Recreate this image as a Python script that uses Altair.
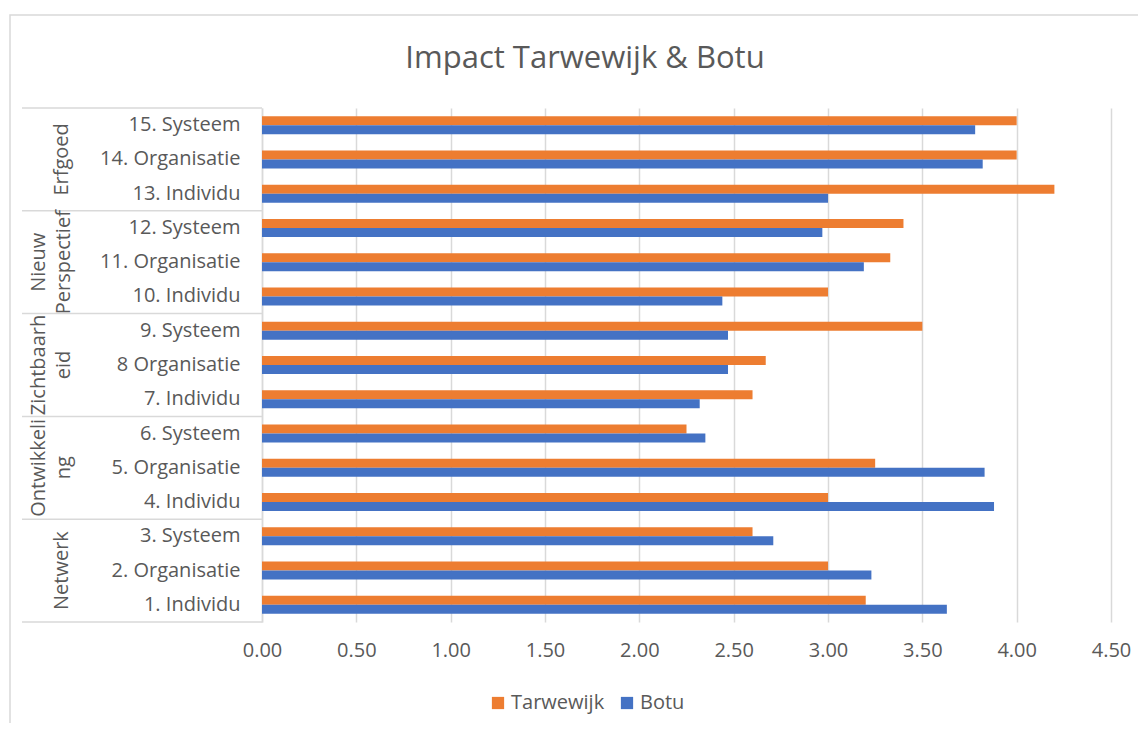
import altair as alt
import pandas as pd

categories = ["1. Individu", "2. Organisatie", "3. Systeem",
              "4. Individu", "5. Organisatie", "6. Systeem",
              "7. Individu", "8 Organisatie", "9. Systeem",
              "10. Individu", "11. Organisatie", "12. Systeem",
              "13. Individu", "14. Organisatie", "15. Systeem"]
tarwewijk = [3.20, 3.00, 2.60, 3.00, 3.25, 2.25, 2.60, 2.67, 3.50, 3.00, 3.33, 3.40, 4.20, 4.00, 4.00]
botu = [3.63, 3.23, 2.71, 3.88, 3.83, 2.35, 2.32, 2.47, 2.47, 2.44, 3.19, 2.97, 3.00, 3.82, 3.78]
groups = ["Netwerk", "Ontwikkeli\nng", "Zichtbaarh\neid", "Nieuw\nPerspectief", "Erfgoed"]
series = ["Tarwewijk", "Botu"]
colors = ["#ED7D31", "#4472C4"]
title_text = "Impact Tarwewijk & Botu"
x_ticks = [0, 0.5, 1.0, 1.5, 2.0, 2.5, 3.0, 3.5, 4.0, 4.5]

FONT = "Open Sans"
GREY = "#595959"
LINE = "#d9d9d9"

rows = []
for c, t, b in zip(categories, tarwewijk, botu):
    rows.append({"cat": c, "series": "Tarwewijk", "value": t})
    rows.append({"cat": c, "series": "Botu", "value": b})
df = pd.DataFrame(rows)

W, H = 849, 514
NOVIEW = alt.ViewBackground(stroke="transparent", strokeWidth=0)

bars = alt.Chart(df).mark_bar().encode(
    x=alt.X("value:Q", scale=alt.Scale(domain=[0, 4.5], nice=False),
            axis=alt.Axis(values=x_ticks, format=".2f", title=None, domain=False, ticks=False,
                          labelFontSize=20, labelColor=GREY, labelFont=FONT, labelPadding=18,
                          labelFlush=False,
                          grid=True, gridColor=LINE, gridWidth=1.5)),
    y=alt.Y("cat:N", sort=categories[::-1],
            scale=alt.Scale(paddingInner=0.475, paddingOuter=0.2375),
            axis=alt.Axis(title=None, ticks=False, domain=True, domainColor=LINE, domainWidth=1.5,
                          labelFontSize=20, labelColor=GREY, labelFont=FONT, labelPadding=22,
                          labelLimit=300)),
    yOffset=alt.YOffset("series:N", sort=series),
    color=alt.Color("series:N", sort=series,
                    scale=alt.Scale(domain=series, range=colors),
                    legend=alt.Legend(title=None, orient="none", direction="horizontal",
                                      legendX=226, legendY=585, symbolType="square",
                                      symbolSize=150, symbolStrokeWidth=0, labelFontSize=20,
                                      labelColor=GREY, labelFont=FONT, columnPadding=12,
                                      labelOffset=3)),
)

sep_df = pd.DataFrame({"pos": [0, 3, 6, 9, 12, 15]})
yq = alt.Scale(domain=[0, 15], nice=False, zero=True)
seps = alt.Chart(sep_df).mark_rule(color=LINE, strokeWidth=1.5).encode(
    y=alt.Y("pos:Q", scale=yq, axis=None),
    x=alt.value(-240), x2=alt.value(0),
)

grp_df = pd.DataFrame({"g": groups, "pos": [1.5, 4.5, 7.5, 10.5, 13.5]})
grp_single = alt.Chart(grp_df).transform_filter(
    "indexof(datum.g, '\\n') < 0"
).mark_text(angle=270, fontSize=20, font=FONT, color=GREY, align="center",
            baseline="middle", lineBreak="\n", lineHeight=25).encode(
    y=alt.Y("pos:Q", scale=yq, axis=None), x=alt.value(-200), text="g:N")
grp_double = alt.Chart(grp_df).transform_filter(
    "indexof(datum.g, '\\n') >= 0"
).mark_text(angle=270, fontSize=20, font=FONT, color=GREY, align="center",
            baseline="middle", lineBreak="\n", lineHeight=25).encode(
    y=alt.Y("pos:Q", scale=yq, axis=None), x=alt.value(-223), text="g:N")

title = alt.Chart(pd.DataFrame({"t": [title_text]})).mark_text(
    fontSize=31, font=FONT, color=GREY, align="center", baseline="alphabetic"
).encode(text="t:N", x=alt.value(323), y=alt.value(-40))

# outer chart frame (right and bottom edges fall outside the page, as in the reference)
frame = alt.Chart(pd.DataFrame({"k": [1]})).mark_rect(
    fill="transparent", stroke=LINE, strokeWidth=1.5
).encode(x=alt.value(-252), x2=alt.value(900), y=alt.value(-93), y2=alt.value(700))

chart = alt.layer(frame, bars, seps, grp_single, grp_double, title).resolve_scale(
    y="independent"
).properties(
    width=W, height=H,
    view=NOVIEW,
    autosize=alt.AutoSizeParams(type="none"),
    padding={"left": 254, "top": 100, "right": 27, "bottom": 101},
).configure_view(stroke="transparent", strokeWidth=0).configure(font=FONT, background="white")

chart.save("out.html", embed_options={"renderer": "svg", "actions": False})
